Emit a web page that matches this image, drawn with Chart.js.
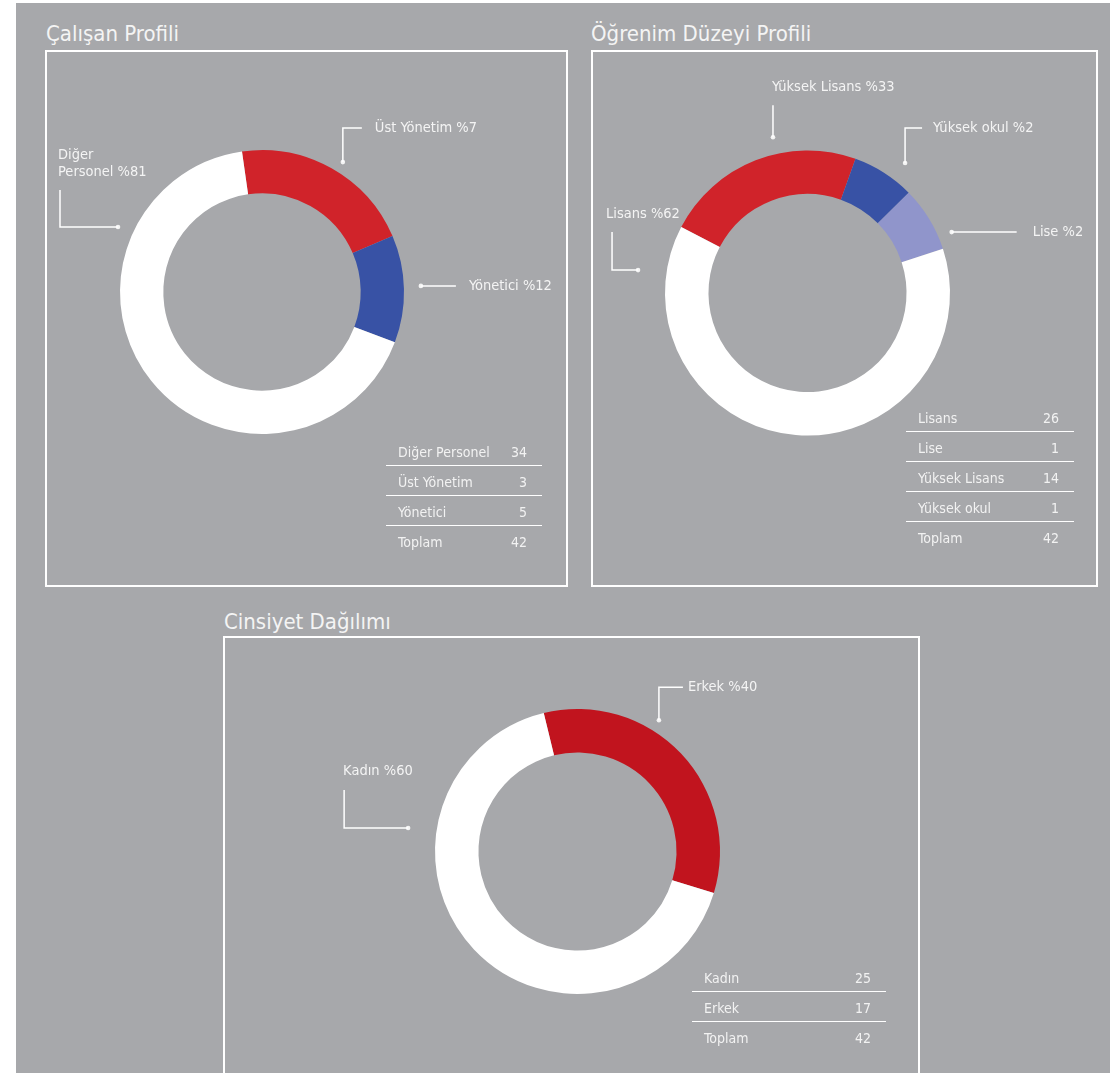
<!DOCTYPE html>
<html lang="tr">
<head>
<meta charset="utf-8">
<title>Çalışan Profili</title>
<script src="https://cdn.jsdelivr.net/npm/chart.js@4.4.1/dist/chart.umd.min.js"></script>
<style>
  html, body { margin: 0; padding: 0; overflow: hidden; background: #fff; }
  body { width: 1110px; height: 1075px; position: relative;
         font-family: "Liberation Sans Narrow", "DejaVu Sans Condensed", "Roboto", sans-serif; color: #f4f4f4; }
  #bg { position: absolute; left: 16px; top: 3px; width: 1094px; height: 1070px; background: #a7a8ab; overflow: hidden; }
  .title { position: absolute; font-size: 22px; font-weight: 300; white-space: nowrap; line-height: 1; }
  .box { position: absolute; border: 2px solid #fff; box-sizing: border-box; }
  canvas { position: absolute; left: 0; top: 0; }
  table { position: absolute; border-collapse: collapse; font-size: 14px; color: #f2f2f2; table-layout: auto; }
  td { padding: 3px 4px 0 12px; height: 26px; white-space: nowrap; }
  td.v { text-align: right; padding: 3px 15px 0 4px; }
  tr.sep td { border-bottom: 1.5px solid #fff; }
</style>
</head>
<body>
<div id="bg">
  <div class="title" style="left:30px; top:20px;">Çalışan Profili</div>
  <div class="title" style="left:575px; top:20px;">Öğrenim Düzeyi Profili</div>
  <div class="title" style="left:208px; top:608px;">Cinsiyet Dağılımı</div>
  <div class="box" style="left:29px; top:47px; width:523px; height:537px;"></div>
  <div class="box" style="left:575px; top:47px; width:507px; height:537px;"></div>
  <div class="box" style="left:207px; top:633px; width:697px; height:500px;"></div>
</div>
<canvas id="c1" width="1110" height="1075"></canvas>
<canvas id="c2" width="1110" height="1075"></canvas>
<canvas id="c3" width="1110" height="1075"></canvas>
<table id="t1" style="left:386px; top:436px; width:156px;"></table>
<table id="t2" style="left:906px; top:402px; width:168px;"></table>
<table id="t3" style="left:692px; top:962px; width:194px;"></table>
<script>
// Çalışan Profili
const calisanLabels = ['Diğer Personel', 'Üst Yönetim', 'Yönetici'];
const calisanCounts = [34, 3, 5];
// dilimler resimde çizildiği gibi (yüzde), sıra: Üst Yönetim, Yönetici, Diğer Personel
const calisanArcs = [20.8, 12.2, 67.0];

// Öğrenim Düzeyi Profili
const ogrenimLabels = ['Lisans', 'Lise', 'Yüksek Lisans', 'Yüksek okul'];
const ogrenimCounts = [26, 1, 14, 1];
// sıra: Yüksek Lisans, Yüksek okul, Lise, Lisans
const ogrenimArcs = [22.8, 7.1, 7.4, 62.7];

// Cinsiyet Dağılımı
const cinsiyetLabels = ['Kadın', 'Erkek'];
const cinsiyetCounts = [25, 17];
// sıra: Erkek, Kadın
const cinsiyetArcs = [33.5, 66.5];

const RED = '#d0232a', DARKRED = '#c1141e', BLUE = '#3852a5', LILAC = '#9095cb', WHITE = '#ffffff';
const FONT = '"Liberation Sans Narrow", "DejaVu Sans Condensed", Roboto, sans-serif';

function pct(counts, i) {
  const t = counts.reduce((a, b) => a + b, 0);
  return '%' + Math.round(counts[i] / t * 100);
}

function fillTable(id, labels, counts) {
  const t = document.getElementById(id);
  let html = '';
  labels.forEach((l, i) => { html += `<tr class="sep"><td>${l}</td><td class="v">${counts[i]}</td></tr>`; });
  html += `<tr><td>Toplam</td><td class="v">${counts.reduce((a, b) => a + b, 0)}</td></tr>`;
  t.innerHTML = html;
}

// etiket çizgileri: açı (saat yönünde, tepeden), dış yarıçaptan uzaklık, nokta sonrası yol, yazı
const callouts = {
  id: 'callouts',
  afterDraw(chart, args, opts) {
    const arc = chart.getDatasetMeta(0).data[0];
    const ctx = chart.ctx;
    ctx.save();
    ctx.strokeStyle = '#fff';
    ctx.fillStyle = '#f4f4f4';
    ctx.lineWidth = 1.5;
    ctx.font = '300 14.5px ' + FONT;
    ctx.textBaseline = 'middle';
    (opts.items || []).forEach(it => {
      const a = it.angle * Math.PI / 180;
      const r = arc.outerRadius + it.gap;
      let x = arc.x + r * Math.sin(a), y = arc.y - r * Math.cos(a);
      ctx.beginPath();
      ctx.arc(x, y, 2.3, 0, Math.PI * 2);
      ctx.fill();
      ctx.beginPath();
      ctx.moveTo(x, y);
      it.path.forEach(p => { x += p[0]; y += p[1]; ctx.lineTo(x, y); });
      ctx.stroke();
      ctx.textAlign = 'left';
      it.text.forEach((line, k) => ctx.fillText(line, x + it.tx, y + it.ty + k * 17));
    });
    ctx.restore();
  }
};

function donut(id, arcs, colors, rotation, cx, cy, r, items) {
  const W = 1110, H = 1075;
  return new Chart(document.getElementById(id), {
    type: 'doughnut',
    data: { datasets: [{ data: arcs, backgroundColor: colors, borderWidth: 0 }] },
    options: {
      responsive: false,
      animation: false,
      rotation: rotation,
      cutout: '69.5%',
      layout: { padding: { left: cx - r, top: cy - r, right: W - cx - r, bottom: H - cy - r } },
      plugins: { legend: { display: false }, tooltip: { enabled: false }, callouts: { items: items } }
    },
    plugins: [callouts]
  });
}

donut('c1', calisanArcs, [RED, BLUE, WHITE], -8.1, 262, 292, 142, [
  { angle: 31.9, gap: 11, path: [[0, -34], [19, 0]], tx: 13, ty: 0, text: [calisanLabels[1] + ' ' + pct(calisanCounts, 1)] },
  { angle: 87.8, gap: 17, path: [[35, 0]], tx: 13, ty: 0, text: [calisanLabels[2] + ' ' + pct(calisanCounts, 2)] },
  { angle: -65.7, gap: 16, path: [[-58, 0], [0, -37]], tx: -2, ty: -35, text: ['Diğer', 'Personel ' + pct(calisanCounts, 0)] }
]);

donut('c2', ogrenimArcs, [RED, BLUE, LILAC, WHITE], -62.4, 807.5, 293, 142.5, [
  { angle: -12.5, gap: 17, path: [[0, -32]], tx: -1, ty: -18, text: [ogrenimLabels[2] + ' ' + pct(ogrenimCounts, 2)] },
  { angle: 36.9, gap: 20, path: [[0, -35], [17, 0]], tx: 11, ty: 0, text: [ogrenimLabels[3] + ' ' + pct(ogrenimCounts, 3)] },
  { angle: 67.1, gap: 14, path: [[65, 0]], tx: 16, ty: 0, text: [ogrenimLabels[1] + ' ' + pct(ogrenimCounts, 1)] },
  { angle: -82.3, gap: 28.5, path: [[-26, 0], [0, -38]], tx: -6, ty: -18, text: [ogrenimLabels[0] + ' ' + pct(ogrenimCounts, 0)] }
]);

donut('c3', cinsiyetArcs, [DARKRED, WHITE], -13.7, 577.5, 851.5, 142.5, [
  { angle: 31.8, gap: 12, path: [[0, -33], [24, 0]], tx: 5, ty: 0, text: [cinsiyetLabels[1] + ' ' + pct(cinsiyetCounts, 1)] },
  { angle: -82.1, gap: 28.5, path: [[-64, 0], [0, -38]], tx: -1, ty: -19, text: [cinsiyetLabels[0] + ' ' + pct(cinsiyetCounts, 0)] }
]);

fillTable('t1', calisanLabels, calisanCounts);
fillTable('t2', ogrenimLabels, ogrenimCounts);
fillTable('t3', cinsiyetLabels, cinsiyetCounts);
</script>
</body>
</html>
